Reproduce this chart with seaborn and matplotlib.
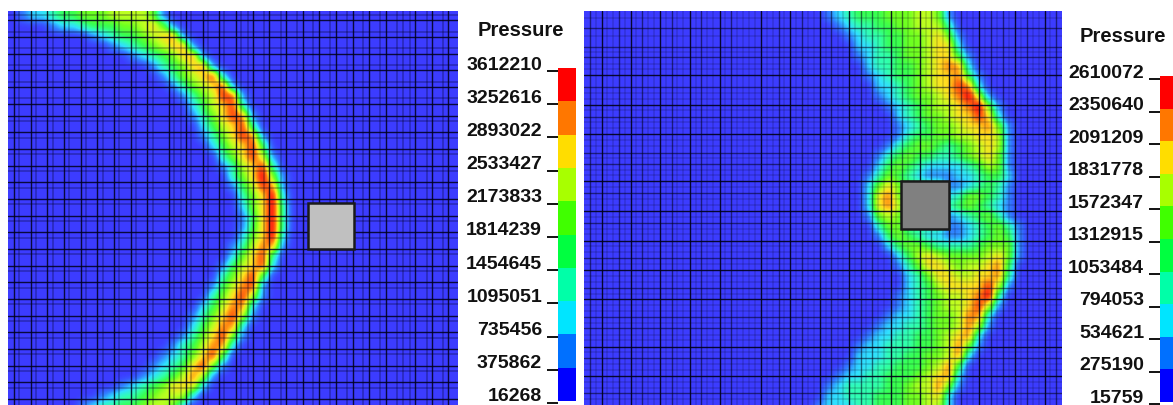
import numpy as np
import matplotlib
matplotlib.use("Agg")
import matplotlib.pyplot as plt
from matplotlib.colors import LinearSegmentedColormap, ListedColormap
from matplotlib.patches import Rectangle
from matplotlib.transforms import ScaledTranslation
import seaborn as sns

W, H = 1173, 405

# ---------- values ----------
left_ticks = [16268, 375862, 735456, 1095051, 1454645, 1814239, 2173833, 2533427, 2893022, 3252616, 3612210]
right_ticks = [15759, 275190, 534621, 794053, 1053484, 1312915, 1572347, 1831778, 2091209, 2350640, 2610072]

# Each row is (first column, pressure band per cell: 0-9, a = top band)
left_rows = [
    (1, "122344555666651"), (4, "1223444556751"), (8, "1234456781"), (10, "123456781"),
    (12, "12345781"), (14, "1345781"), (15, "1356792"), (16, "135679 1".replace(" ", "")),
    (17, "1356991"), (18, "246793"), (18, "1357981"), (19, "246793"),
    (19, "1357981"), (20, "246794"), (21, "357961"), (21, "136793"),
    (22, "357a51"), (22, "146981"), (23, "357a2"), (23, "257a3"),
    (23, "147a3"), (23, "147a3"), (23, "257a2"), (22, "136881"),
    (22, "25793"), (21, "146792"), (21, "35794"), (20, "146891"),
    (20, "357961"), (19, "246882"), (18, "1357961"), (18, "246882"),
    (17, "1357951"), (16, "1346882"), (15, "1235794"), (14, "12347951"),
    (13, "12346861"), (11, "123457772"), (9, "1233456662"), (7, "12334456652"),
]
right_rows = [
    (24, "1234445556651"), (25, "123344556663"), (26, "123344556751"), (27, "22344556772"),
    (27, "123345567741"), (28, "23344567882"), (28, "123445677841"), (29, "22345677982"),
    (29, "123455678a61"), (30, "123456678a51"), (31, "23455677972"), (31, "123455677851"),
    (31, "134455667761"), (30, "1345543456761"), (29, "13454433456751"), (29, "24543222234651"),
    (28, "135432111223442"), (28, "257544441123431"), (28, "278544442355431"), (28, "278644443454321"),
    (28, "156533331234531"), (29, "355333311234531"), (29, "145432211234541"), (30, "24554333345551"),
    (31, "2467655556751"), (31, "135776566784"), (32, "23577667783"), (32, "23467777961"),
    (31, "123456678a3"), (31, "12345667961"), (30, "12234556882"), (29, "122334556861"),
    (28, "122334456782"), (27, "1223334456851"), (27, "222334455682"), (26, "122334445684"),
    (25, "1223344456782"), (24, "12333344566851"), (24, "2233344455672"), (23, "12223344455662"),
]

band_colors = ["#0000ff", "#0070ff", "#00e5ff", "#00ffa8", "#00ff40", "#40ff00",
               "#a8ff00", "#ffdd00", "#ff7700", "#ff0000"]
field_colors = ["#3c3cff", "#3080ff", "#30e0ff", "#30ffb0", "#38ff50", "#70ff20",
                "#c0ff20", "#ffe020", "#ff8010", "#ff3010", "#ff0000"]

# Mesh lines
left_major_x = [14, 30.7, 47.3, 64, 80.7, 97.3, 114, 130.7, 147.3, 169, 186, 202.7, 219.3, 236, 252.7, 269.3,
                286, 302.7, 319.3, 336, 352.7, 369.3, 386, 415, 431.7, 448.3]
left_minor_x = [19, 36, 52.7, 69.4, 86, 102.7, 119.4, 136, 152.7, 174, 180.5, 191, 207.7, 224, 241, 248, 264, 281,
                297, 313, 330, 347, 363, 380, 397, 403, 410, 427, 443]
left_major_y = [20.3, 37, 53.7, 70.3, 87, 103.7, 115.7, 132.3, 149, 165.7, 182.3, 199, 215.7, 232.3, 249, 265.7,
                282.3, 299, 315.7, 332.3, 349, 365.7, 382.3, 399]
left_minor_y = [15, 31.7, 48.3, 65, 81.7, 98.3, 121, 137.7, 154.3, 171, 187.7, 204, 221, 237.7, 254.3, 271, 287.7,
                304, 321, 337.7, 354.3, 371, 387.7]
right_major_x = [601.7, 630.7, 660.3, 690, 719.7, 760.7, 790.3, 820, 849, 890.7, 920, 949.3, 979, 1015, 1044.7]
right_medium_x = [590, 619.3, 642, 671.7, 701.3, 731, 778.7, 801.7, 831, 860.7, 872, 902, 931, 961, 990.7, 1003,
                  1027, 1056]
right_minor_x = [596, 607, 613, 625, 636, 648, 654, 666, 677, 683, 696, 707, 713, 725, 737, 743, 749, 755, 767, 773,
                 784, 796, 808, 814, 826, 837.7, 843, 855, 866, 878, 884, 896, 908, 914, 926, 937, 943, 955, 967,
                 973, 985, 997, 1009, 1021, 1033, 1039, 1050]
right_major_y = [75.3, 104.7, 134.3, 181.3, 211, 240.7, 270, 299.3, 346.7, 376]
right_medium_y = [28.3, 46.7, 57.3, 87, 116.7, 152.7, 163.7, 193.3, 223, 258.3, 288, 317.3, 328.3, 358.3, 393]
right_minor_y = [18, 36, 52, 64, 69, 93, 99, 110, 122, 128, 140, 146, 158, 170, 175, 187, 199, 205, 217, 229, 234,
                 246, 252, 264, 276, 282, 294, 305, 311, 323, 335, 340, 352, 364, 370, 382, 388, 399]

# ---------- drawing ----------
sns.set_theme(style="white")
plt.rcParams["font.family"] = ["Liberation Sans", "DejaVu Sans"]
fig = plt.figure(figsize=(W / 100, H / 100), dpi=100, facecolor="white")


def axes_px(x0, y0, x1, y1):
    return fig.add_axes([x0 / W, 1 - y1 / H, (x1 - x0) / W, (y1 - y0) / H])


def build_field(rows, ticks, ncols):
    out = np.full((len(rows), ncols), ticks[0], dtype=float)
    for i, (start, text) in enumerate(rows):
        for j, ch in enumerate(text):
            out[i, start + j] = ticks[int(ch, 16)]
    return out


def panel(box, rows, ticks, ncols, cx, cy, alphas, square, fill):
    x0, y0, x1, y1 = box
    ax = axes_px(x0, y0, x1, y1)
    cmap = LinearSegmentedColormap.from_list("pressure", field_colors)
    ax.imshow(build_field(rows, ticks, ncols), cmap=cmap, vmin=ticks[0], vmax=ticks[-1], aspect="auto",
              interpolation="gaussian", interpolation_stage="data",
              extent=(x0, x0 + 10 * ncols, y0 + 10 * len(rows), y0))
    ax.set_xlim(x0, x1)
    ax.set_ylim(y1, y0)
    for (xs, ys, alpha, lw) in zip(cx, cy, alphas, (1.0, 1.0, 1.2)):
        for x in xs:
            ax.axvline(x, color="#000018", alpha=alpha, lw=lw)
        for y in ys:
            ax.axhline(y, color="#000018", alpha=alpha, lw=lw)
    ax.add_patch(Rectangle((square[0], square[1]), square[2] - square[0], square[3] - square[1],
                           facecolor=fill, edgecolor="#1a1a1a", lw=1.8, zorder=5))
    ax.axis("off")
    return ax


panel((8, 11, 458, 405), left_rows, left_ticks, 45,
      (left_major_x, [], left_minor_x), (left_major_y, [], left_minor_y), (0.85, 0.6, 0.3),
      (308, 203, 354, 249), "#c0c0c0")
panel((584, 11, 1062, 405), right_rows, right_ticks, 48,
      (right_major_x, right_medium_x, right_minor_x), (right_major_y, right_medium_y, right_minor_y),
      (0.9, 0.55, 0.16), (901, 181, 949, 229), "#808080")


def legend(x0, x1, top, bottom, tick_top, tick_bottom, ticks, title_x, title_y):
    step = (bottom - top) / 10
    ax = axes_px(x0, top, x1, H)
    levels = np.arange(10)[::-1].reshape(-1, 1)
    sns.heatmap(levels, ax=ax, cmap=ListedColormap(band_colors), cbar=False, xticklabels=False, yticklabels=False)
    ax.set_ylim((H - top) / step, 0)
    pos = np.linspace((tick_top - top) / step, (tick_bottom - top) / step, len(ticks))
    ax.set_yticks(pos)
    ax.set_yticklabels([str(v) for v in ticks[::-1]], fontsize=14, fontweight="bold", color="#111111", va="bottom")
    ax.tick_params(axis="y", left=True, length=8, width=1.4, color="#111111", pad=3.5)
    ax.set_xticks([])
    shift = ScaledTranslation(0, -2.5 / 100, fig.dpi_scale_trans)
    for label in ax.get_yticklabels():
        label.set_transform(label.get_transform() + shift)
    fig.text(title_x / W, 1 - title_y / H, "Pressure", fontsize=14.5, fontweight="bold", color="#111111",
             ha="center", va="center")


legend(558, 576, 68, 401, 71, 403, left_ticks, 521, 30)
legend(1160, 1173, 76, 402, 79, 404, right_ticks, 1123, 37)

fig.savefig("out.png", dpi=100, facecolor="white")
